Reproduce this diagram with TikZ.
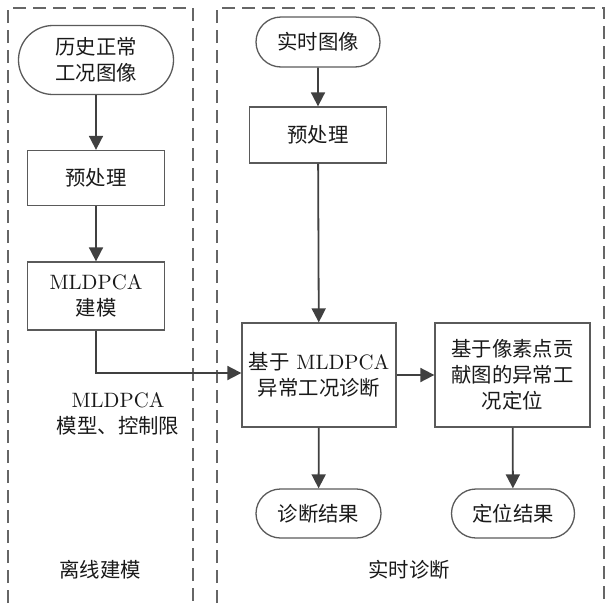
\documentclass[tikz,border=0pt]{standalone}
\usepackage{fontspec}
\setmainfont{lmroman10-regular}[Extension=.otf]
\newfontfamily\cjk[Scale=0.98]{Noto Sans CJK SC}
\newcommand{\zh}[1]{{\cjk #1}}
\usetikzlibrary{arrows.meta,shapes.misc}
\definecolor{lc}{HTML}{404040}
\definecolor{bc}{HTML}{5A5A5A}
\definecolor{dc}{HTML}{666666}
\begin{document}
\begin{tikzpicture}[x=1pt,y=-1pt,
  every node/.style={font=\fontsize{20.8}{26}\selectfont, text=black!90, align=center, inner sep=0pt},
  box/.style={draw=bc, line width=1.3pt, rectangle},
  term/.style={draw=bc, line width=1.3pt, rounded rectangle},
  arr/.style={draw=lc, line width=1.8pt, -{Triangle[length=14pt,width=14pt]}},
  frame/.style={draw=dc, line width=1.6pt, dash pattern=on 13pt off 7pt}]
\useasboundingbox (0,0) rectangle (608,603);
% frames
\draw[frame] (8,603) -- (8,8) -- (193,8) -- (193,603);
\draw[frame] (217,603) -- (217,8) -- (604,8) -- (604,603);
% nodes
\node[term, minimum width=155pt, minimum height=69pt] (hist) at (96,60) {\zh{历史正常}\\\zh{工况图像}};
\node[box, minimum width=137pt, minimum height=55pt] (pre1) at (96,178) {\zh{预处理}};
\node[box, minimum width=137pt, minimum height=68pt] (mld) at (96,296) {MLDPCA\\\zh{建模}};
\node[term, minimum width=124pt, minimum height=50pt] (rt) at (318,42) {\zh{实时图像}};
\node[box, minimum width=137pt, minimum height=56pt] (pre2) at (318,135) {\zh{预处理}};
\node[box, minimum width=154pt, minimum height=104pt] (diag) at (319,375) {\zh{基于} MLDPCA\\\zh{异常工况诊断}};
\node[box, minimum width=155pt, minimum height=104pt] (loc) at (512.5,375) {\zh{基于像素点贡}\\\zh{献图的异常工}\\\zh{况定位}};
\node[term, minimum width=125pt, minimum height=49pt] (res1) at (318.5,513.5) {\zh{诊断结果}};
\node[term, minimum width=123pt, minimum height=49pt] (res2) at (513,513.5) {\zh{定位结果}};
\node (model) at (118,414) {MLDPCA\\\zh{模型、控制限}};
\node (off) at (100,570) {\zh{离线建模}};
\node (on) at (409,570) {\zh{实时诊断}};
% arrows
\draw[arr] (hist) -- (pre1);
\draw[arr] (pre1) -- (mld);
\draw[arr] (rt) -- (pre2);
\draw[arr] (pre2) -- (diag);
\draw[arr] (diag) -- (loc);
\draw[arr] (diag) -- (res1);
\draw[arr] (loc) -- (res2);
\coordinate (bend) at (96,373);
\draw[arr] (mld.south) -- (bend) -- (diag.west |- bend);
\end{tikzpicture}
\end{document}
